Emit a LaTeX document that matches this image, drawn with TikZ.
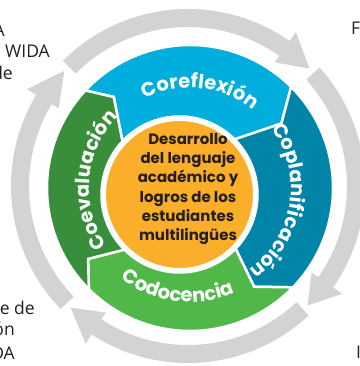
\documentclass[tikz,border=0pt]{standalone}
\usepackage{fontspec}
\setmainfont{Open Sans}
\newfontfamily\pop{Poppins}
\usetikzlibrary{calc,decorations.text}
\definecolor{cblue}{RGB}{0,174,222}
\definecolor{cteal}{RGB}{0,132,168}
\definecolor{cgreen}{RGB}{80,184,72}
\definecolor{cdgreen}{RGB}{56,142,58}
\definecolor{corange}{RGB}{250,174,41}
\definecolor{cgray}{RGB}{209,211,212}
\definecolor{ctext}{RGB}{35,31,32}
\newcommand\ringfont{\pop\bfseries\fontsize{19.5}{19.5}\selectfont\color{white}}
\begin{document}
\begin{tikzpicture}[x=1pt,y=1pt,
  seg/.style={draw=white, line width=2.5pt, line join=miter},
  grayarrow/.style={fill=cgray},
  corner/.style={font=\fontsize{17.5}{21}\selectfont, text=ctext, inner sep=0pt},
  ringtext/.style={decorate, decoration={text along path, text align=center, text={|\ringfont|#1}}}]
\useasboundingbox (0,0) rectangle (359,366);
\coordinate (Co) at (190,178);
\coordinate (Ci) at (179.5,171.5);
\coordinate (Cg) at (188,180);
\coordinate (Cm) at ($(Co)!0.5!(Ci)$);
% gray outer arrows
\begin{scope}[shift={(Cg)}]
\foreach \t/\b/\h in {135/55/44, 42/-35/-45, -47/-123/-134, 224/149/137}{
  \fill[grayarrow] (\t:177pt) arc[start angle=\t, end angle=\b, radius=177pt]
    -- (\b:188pt) -- (\h:169pt) -- (\b:151pt) -- (\b:159pt)
    arc[start angle=\b, end angle=\t, radius=159pt] -- cycle;
}
\end{scope}
% junction points
\foreach \n/\a in {1/137,2/45,3/-44,4/-135}{
  \coordinate (O\n) at ($(Co)+(\a:143pt)$);
  \coordinate (I\n) at ($(Ci)+(\a:78pt)$);
  \coordinate (T\n) at ($(Cm)+({\a-10}:118pt)$);
}
% segments
\path[seg, fill=cblue] (O1) arc[start angle=137, end angle=45, radius=143pt] -- (T2) -- (I2)
  arc[start angle=45, end angle=137, radius=78pt] -- (T1) -- cycle;
\path[seg, fill=cteal] (O2) arc[start angle=45, end angle=-44, radius=143pt] -- (T3) -- (I3)
  arc[start angle=-44, end angle=45, radius=78pt] -- (T2) -- cycle;
\path[seg, fill=cgreen] (O3) arc[start angle=-44, end angle=-135, radius=143pt] -- (T4) -- (I4)
  arc[start angle=-135, end angle=-44, radius=78pt] -- (T3) -- cycle;
\path[seg, fill=cdgreen] (O4) arc[start angle=225, end angle=137, radius=143pt] -- (T1) -- (I1)
  arc[start angle=137, end angle=225, radius=78pt] -- (T4) -- cycle;
% ring labels
\path[ringtext=Coreflexión] ($(Co)+(144:100pt)$) arc[start angle=144, end angle=24, radius=100pt];
\path[ringtext=Coplanificación] ($(Co)+(51:101pt)$) arc[start angle=51, end angle=-69, radius=101pt];
\path[ringtext=Codocencia] ($(Co)+(-157:114pt)$) arc[start angle=-157, end angle=-37, radius=114pt];
\path[ringtext=Coevaluación] ($(Co)+(235:101pt)$) arc[start angle=235, end angle=115, radius=101pt];
% core
\node[circle, fill=corange, draw=white, line width=3pt, minimum size=150pt, inner sep=0pt] (core) at (Ci) {};
\node[align=center, text=ctext, font=\pop\bfseries\fontsize{15}{19.2}\selectfont, inner sep=0pt] (coretext) at (188,177)
  {Desarrollo\\del lenguaje\\académico y\\logros de los\\estudiantes\\multilingües};
% corner texts (cut by the frame)
\node[corner, anchor=base east] (tl1) at (5,329) {A};
\node[corner, anchor=base east] (tl2) at (50,308) {WIDA};
\node[corner, anchor=base east] (tl3) at (13,286) {le};
\node[corner, anchor=base west] (tr1) at (351,331) {F};
\node[corner, anchor=base east] (bl1) at (35,51) {e de};
\node[corner, anchor=base east] (bl2) at (15,30) {ón};
\node[corner, anchor=base east] (bl3) at (15,6) {DA};
\node[corner, anchor=base west] (br1) at (356,8) {I};
\end{tikzpicture}
\end{document}
